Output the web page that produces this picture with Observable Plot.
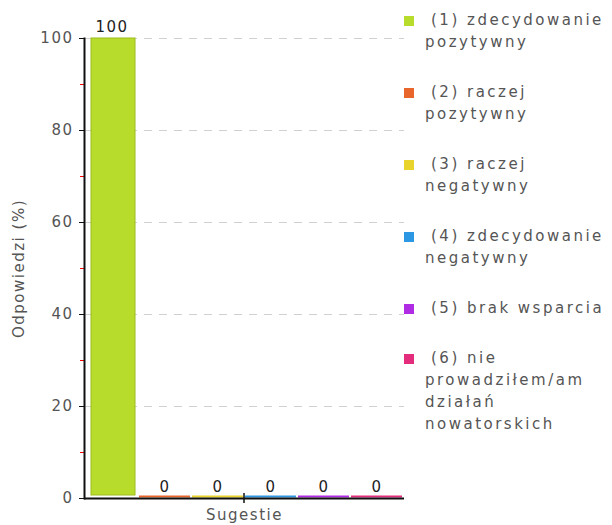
<!DOCTYPE html>
<html>
<head>
<meta charset="utf-8">
<script src="https://cdn.jsdelivr.net/npm/d3@7"></script>
<script src="https://cdn.jsdelivr.net/npm/@observablehq/plot@0.6"></script>
<style>
  html, body { margin: 0; padding: 0; background: #fff; }
  #wrap { position: relative; width: 612px; height: 525px; overflow: hidden; }
  #legend { position: absolute; left: 404px; top: 9px; font-family: "DejaVu Sans", sans-serif; font-size: 15px; letter-spacing: 2.5px; color: #555; }
  .item { display: flex; align-items: flex-start; margin-bottom: 28px; }
  .sw { width: 10px; height: 10px; flex: none; margin-top: 7px; }
  .lbl { margin-left: 11px; white-space: pre-line; line-height: 22px; text-indent: 6px; }
</style>
</head>
<body>
<div id="wrap"><div id="chart"></div><div id="legend"></div></div>
<script>
const labels = [
  "(1) zdecydowanie\npozytywny",
  "(2) raczej\npozytywny",
  "(3) raczej\nnegatywny",
  "(4) zdecydowanie\nnegatywny",
  "(5) brak wsparcia",
  "(6) nie\nprowadziłem/am\ndziałań\nnowatorskich"
];
const values = [100, 0, 0, 0, 0, 0];
const colors = ["#b8dc2c", "#e8662c", "#e8d42c", "#2c98e4", "#b02ce4", "#e42c7c"];
const group = "Sugestie";
const yTicks = [0, 20, 40, 60, 80, 100];
const yMinorTicks = [10, 30, 50, 70, 90];
const yLabel = "Odpowiedzi (%)";

const data = labels.map((l, i) => ({label: l, value: values[i], color: colors[i]}));

// Tick at the centre of the category group, placed with the library's x and y scales
function groupTick(index, scales) {
  const ns = "http://www.w3.org/2000/svg";
  const xs = scales.x(labels[Math.floor(labels.length / 2)]);
  const y0 = scales.y(0);
  const line = document.createElementNS(ns, "line");
  line.setAttribute("x1", xs);
  line.setAttribute("x2", xs);
  line.setAttribute("y1", y0 - 5);
  line.setAttribute("y2", y0 + 5);
  line.setAttribute("stroke", "#111");
  line.setAttribute("stroke-width", 1.5);
  const g = document.createElementNS(ns, "g");
  g.appendChild(line);
  return g;
}

const chart = Plot.plot({
  width: 406,
  height: 525,
  marginLeft: 84,
  marginRight: 2,
  marginTop: 38,
  marginBottom: 27,
  style: {fontFamily: "DejaVu Sans, sans-serif", fontSize: "15px", letterSpacing: "1.5px", background: "#fff"},
  x: {domain: labels, padding: 0, axis: null},
  y: {domain: [0, 100], axis: null},
  color: {type: "identity"},
  marks: [
    Plot.gridY(yTicks.filter(t => t > 0), {stroke: "#d0d0d0", strokeOpacity: 1, strokeDasharray: "8,7", strokeWidth: 1}),
    Plot.barY(data.filter(d => d.value > 0), {x: "label", y: "value", fill: "color", stroke: "#9cbc1c", strokeWidth: 1, insetLeft: 6, insetRight: 3, insetBottom: 3}),
    Plot.tickY(data.filter(d => d.value === 0), {x: "label", y: "value", stroke: "color", strokeWidth: 2, inset: 1, dy: -2}),
    Plot.text(data, {x: "label", y: "value", text: d => String(d.value), dy: -11, fill: "#222", fontSize: 15}),
    Plot.axisY(yMinorTicks, {tickSize: 4, tickFormat: () => "", stroke: "#ff0000", label: null}),
    Plot.axisY(yTicks, {tickSize: 5, tickPadding: 6, fill: "#555", stroke: "#111", label: yLabel, labelArrow: "none", labelAnchor: "center", labelOffset: 71, fontSize: 15}),
    Plot.frame({anchor: "left", stroke: "#111", strokeWidth: 2}),
    Plot.ruleY([0], {stroke: "#111", strokeWidth: 2}),
    groupTick,
    Plot.text([group], {frameAnchor: "bottom", text: d => d, dy: 21, fill: "#555", fontSize: 15})
  ]
});
document.getElementById("chart").appendChild(chart);

const legend = document.getElementById("legend");
labels.forEach((l, i) => {
  const item = document.createElement("div");
  item.className = "item";
  const sw = document.createElement("div");
  sw.className = "sw";
  sw.style.background = colors[i];
  const t = document.createElement("div");
  t.className = "lbl";
  t.textContent = l;
  item.appendChild(sw);
  item.appendChild(t);
  legend.appendChild(item);
});
</script>
</body>
</html>
